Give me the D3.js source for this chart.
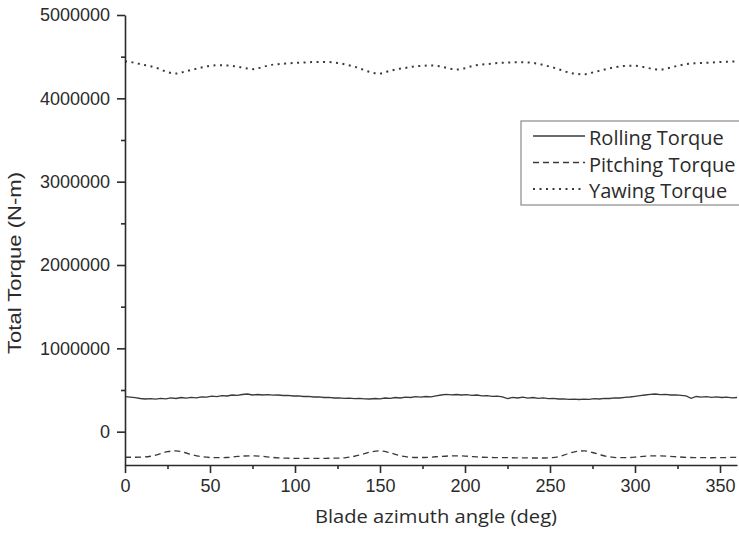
<!DOCTYPE html>
<html>
<head>
<meta charset="utf-8">
<script src="https://cdn.jsdelivr.net/npm/d3@7"></script>
<style>
  html, body { margin: 0; padding: 0; background: #fff; }
  svg { display: block; }
</style>
</head>
<body>
<svg id="chart" width="739" height="534"></svg>
<script>
// Blade azimuth angle samples (deg)
const rollAngles = d3.range(0, 361, 3);
const pitchAngles = d3.range(0, 361, 5);
const yawAngles = d3.range(0, 361, 5);

// Rolling torque (N-m), every 3 deg
const rollingTorque = [
  420000, 414000, 408000, 398000, 392000, 396000, 390000, 400000, 394000, 405000,
  398000, 410000, 402000, 412000, 406000, 418000, 414000, 426000, 420000, 432000,
  428000, 440000, 436000, 446000, 452000, 440000, 446000, 440000, 444000, 438000,
  440000, 434000, 436000, 428000, 430000, 422000, 424000, 416000, 418000, 410000,
  412000, 404000, 406000, 400000, 402000, 396000, 400000, 394000, 392000, 398000,
  394000, 404000, 400000, 410000, 404000, 414000, 410000, 420000, 414000, 422000,
  418000, 430000, 440000, 448000, 442000, 446000, 440000, 444000, 436000, 440000,
  430000, 432000, 424000, 426000, 418000, 396000, 412000, 404000, 414000, 402000,
  410000, 400000, 406000, 396000, 400000, 392000, 394000, 388000, 390000, 386000,
  390000, 388000, 396000, 392000, 400000, 398000, 406000, 404000, 412000, 416000,
  424000, 432000, 440000, 448000, 452000, 444000, 448000, 440000, 442000, 436000,
  430000, 400000, 422000, 414000, 420000, 412000, 418000, 410000, 414000, 406000,
  410000
];

// Pitching torque (N-m), every 5 deg
const pitchingTorque = [
  -307000, -307000, -305000, -295000, -270000, -240000, -231000, -250000, -280000, -300000,
  -310000, -312000, -310000, -300000, -292000, -290000, -295000, -305000, -315000, -318000,
  -320000, -320000, -320000, -320000, -319000, -318000, -312000, -295000, -270000, -242000,
  -231000, -248000, -278000, -300000, -310000, -310000, -305000, -298000, -292000, -290000,
  -293000, -300000, -307000, -310000, -311000, -312000, -314000, -315000, -316000, -316000,
  -312000, -300000, -268000, -240000, -231000, -250000, -280000, -302000, -312000, -312000,
  -305000, -296000, -291000, -290000, -295000, -302000, -308000, -311000, -312000, -313000,
  -312000, -310000, -308000
];

// Yawing torque (N-m), every 5 deg
const yawingTorque = [
  4445000, 4430000, 4405000, 4385000, 4355000, 4315000, 4297000, 4320000, 4345000, 4370000,
  4390000, 4397000, 4395000, 4385000, 4365000, 4350000, 4370000, 4398000, 4410000, 4418000,
  4425000, 4430000, 4435000, 4437000, 4435000, 4425000, 4405000, 4380000, 4345000, 4310000,
  4297000, 4325000, 4350000, 4365000, 4382000, 4390000, 4395000, 4385000, 4362000, 4345000,
  4362000, 4392000, 4405000, 4415000, 4425000, 4430000, 4433000, 4432000, 4425000, 4405000,
  4380000, 4350000, 4315000, 4295000, 4289000, 4310000, 4335000, 4360000, 4378000, 4390000,
  4390000, 4375000, 4355000, 4345000, 4365000, 4390000, 4410000, 4420000, 4425000, 4430000,
  4435000, 4440000, 4445000
];

// Axis ticks
const xTicks = [0, 50, 100, 150, 200, 250, 300, 350];
const xMinorTicks = [25, 75, 125, 175, 225, 275, 325];
const yTicks = [0, 1000000, 2000000, 3000000, 4000000, 5000000];
const yMinorTicks = [500000, 1500000, 2500000, 3500000, 4500000];

const seriesNames = ["Rolling Torque", "Pitching Torque", "Yawing Torque"];

const svg = d3.select("#chart");
const ink = "#2b2b2b";

const x = d3.scaleLinear().domain([0, 360]).range([125, 737]);
const y = d3.scaleLinear().domain([-400000, 5000000]).range([465, 15]);

const series = [
  { name: seriesNames[0], xs: rollAngles, ys: rollingTorque, dash: null, width: 1.3, curve: d3.curveLinear },
  { name: seriesNames[1], xs: pitchAngles, ys: pitchingTorque, dash: "6,4", width: 1.3, curve: d3.curveMonotoneX },
  { name: seriesNames[2], xs: yawAngles, ys: yawingTorque, dash: "2,4.5", width: 2, curve: d3.curveMonotoneX }
];

series.forEach(s => {
  const line = d3.line()
    .x(d => x(d[0]))
    .y(d => y(d[1]))
    .curve(s.curve);
  svg.append("path")
    .datum(s.xs.map((a, i) => [a, s.ys[i]]))
    .attr("fill", "none")
    .attr("stroke", "#3a3a3a")
    .attr("stroke-width", s.width)
    .attr("stroke-dasharray", s.dash)
    .attr("d", line);
});

// X axis
svg.append("g")
  .attr("transform", "translate(0,465)")
  .call(d3.axisBottom(x).tickValues(xTicks).tickSize(8).tickSizeOuter(0).tickPadding(6));
svg.append("g")
  .attr("transform", "translate(0,465)")
  .call(d3.axisBottom(x).tickValues(xMinorTicks).tickSize(4).tickFormat(""))
  .call(g => g.select(".domain").remove());

// Y axis
svg.append("g")
  .attr("transform", "translate(125,0)")
  .call(d3.axisLeft(y).tickValues(yTicks).tickSize(8).tickSizeOuter(0).tickPadding(7).tickFormat(d3.format("d")));
svg.append("g")
  .attr("transform", "translate(125,0)")
  .call(d3.axisLeft(y).tickValues(yMinorTicks).tickSize(4).tickFormat(""))
  .call(g => g.select(".domain").remove());

svg.selectAll(".domain, .tick line")
  .attr("stroke", ink)
  .attr("stroke-width", 1.6);
svg.selectAll(".tick text")
  .attr("fill", ink)
  .attr("font-family", "'Liberation Sans', Arial, sans-serif")
  .attr("font-size", 18);

// Axis titles
svg.append("text")
  .attr("x", 436)
  .attr("y", 523)
  .attr("text-anchor", "middle")
  .attr("font-family", "'Open Sans', 'Noto Sans', sans-serif")
  .attr("font-size", 19)
  .attr("fill", ink)
  .attr("textLength", 242)
  .attr("lengthAdjust", "spacingAndGlyphs")
  .text("Blade azimuth angle (deg)");

svg.append("text")
  .attr("transform", "translate(21,263) rotate(-90)")
  .attr("text-anchor", "middle")
  .attr("font-family", "'Liberation Sans', Arial, sans-serif")
  .attr("font-size", 18)
  .attr("fill", ink)
  .attr("textLength", 182)
  .attr("lengthAdjust", "spacingAndGlyphs")
  .text("Total Torque (N-m)");

// Legend
const legend = svg.append("g");
legend.append("rect")
  .attr("x", 521).attr("y", 121)
  .attr("width", 230).attr("height", 84)
  .attr("fill", "#fff")
  .attr("stroke", "#8a8a8a")
  .attr("stroke-width", 1.2);

series.forEach((s, i) => {
  const ly = 136 + i * 26.5;
  legend.append("line")
    .attr("x1", 533).attr("x2", 585)
    .attr("y1", ly).attr("y2", ly)
    .attr("stroke", "#3a3a3a")
    .attr("stroke-width", s.width)
    .attr("stroke-dasharray", s.dash);
  legend.append("text")
    .attr("x", 589)
    .attr("y", ly + 9)
    .attr("font-family", "'Open Sans', 'Noto Sans', sans-serif")
    .attr("font-size", 20)
    .attr("fill", ink)
    .text(s.name);
});
</script>
</body>
</html>
